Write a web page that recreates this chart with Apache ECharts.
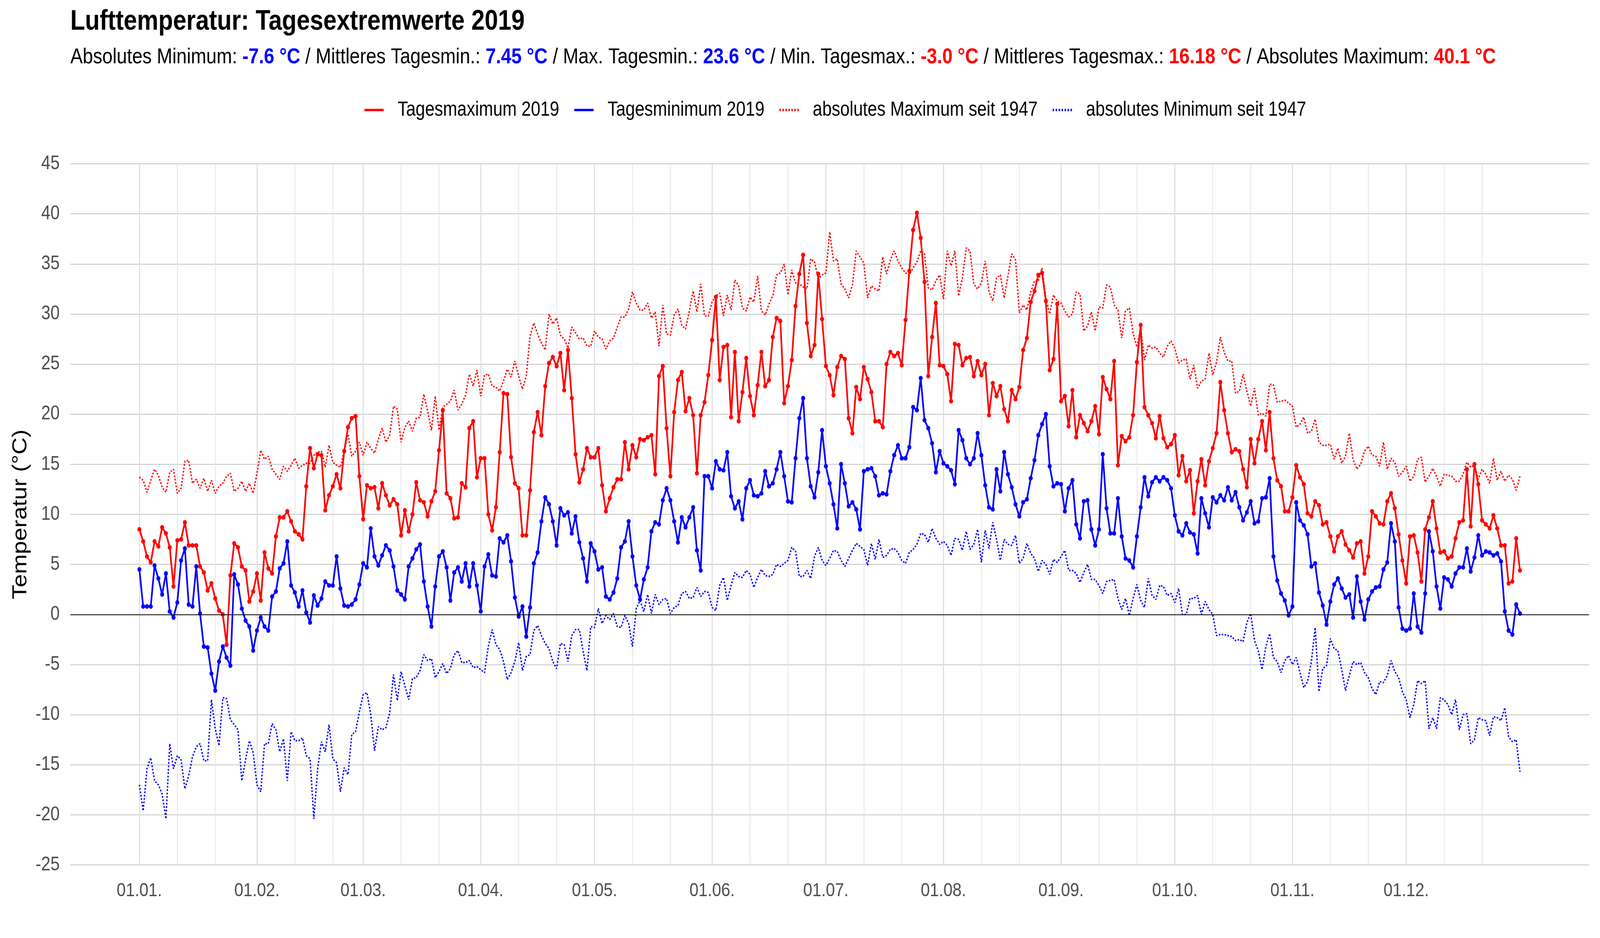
<!DOCTYPE html>
<html>
<head>
<meta charset="utf-8">
<title>Lufttemperatur: Tagesextremwerte 2019</title>
<script src="https://cdn.jsdelivr.net/npm/echarts@6.0.0/dist/echarts.min.js"></script>
<style>
  html, body { margin: 0; padding: 0; background: #fff; overflow: hidden; width: 100%; height: 100%; }
  #wrap { position: relative; width: 100vw; height: 100vh; overflow: hidden; }
  #chart { position: absolute; left: 0; top: 0; width: 4800px; height: 2400px; transform-origin: 0 0; }
</style>
</head>
<body>
<div id="wrap"><div id="chart"></div></div>
<script>
// x-Achse: Tag des Jahres 2019 (0 = 01.01.)
var monthLabels = ['01.01.', '01.02.', '01.03.', '01.04.', '01.05.', '01.06.',
                   '01.07.', '01.08.', '01.09.', '01.10.', '01.11.', '01.12.'];
var yTicks = [-25, -20, -15, -10, -5, 0, 5, 10, 15, 20, 25, 30, 35, 40, 45];

// Tagesmaximum 2019
var tmax2019 = [
  8.5, 7.3, 5.8, 5.2, 7.3, 6.8, 8.7, 8.1, 6.7, 2.8,
  7.4, 7.5, 9.2, 6.9, 6.9, 6.9, 4.8, 4.2, 2.4, 3.1,
  1.6, 0.4, 0.0, -3.0, 3.9, 7.1, 6.7, 4.8, 4.4, 1.3,
  2.3, 4.1, 1.4, 6.2, 4.6, 4.1, 7.8, 9.7, 9.7, 10.3,
  9.3, 8.3, 8.0, 7.5, 12.8, 16.6, 14.6, 16.0, 15.9, 10.4,
  11.9, 12.8, 14.0, 12.6, 16.3, 18.7, 19.6, 19.8, 13.8, 9.5,
  12.9, 12.6, 12.7, 10.6, 13.1, 11.9, 10.9, 11.5, 11.0, 7.9,
  10.4, 8.3, 10.0, 13.2, 11.4, 11.2, 9.8, 11.3, 12.3, 16.4,
  20.4, 12.1, 11.6, 9.6, 9.7, 13.1, 12.7, 18.6, 19.3, 13.7,
  15.6, 15.6, 10.0, 8.4, 10.7, 16.2, 22.1, 22.0, 15.7, 13.1,
  12.6, 7.9, 7.9, 12.4, 18.2, 20.2, 17.9, 22.8, 25.1, 25.7,
  24.8, 26.1, 22.4, 26.4, 21.6, 16.0, 13.2, 14.5, 16.6, 15.7,
  15.7, 16.6, 12.9, 10.3, 11.6, 12.7, 13.5, 13.5, 17.2, 14.5,
  16.9, 15.7, 17.5, 17.4, 17.7, 17.9, 14.0, 23.8, 24.8, 18.6,
  13.8, 20.2, 23.4, 24.2, 20.3, 21.6, 19.9, 14.1, 19.9, 21.2,
  23.9, 27.4, 31.7, 23.4, 26.7, 26.9, 19.7, 26.2, 19.3, 22.2,
  25.6, 21.8, 19.9, 22.9, 26.2, 22.8, 23.4, 27.7, 29.6, 29.3,
  21.1, 22.8, 25.4, 30.8, 34.0, 35.9, 29.1, 25.8, 26.9, 34.0,
  29.5, 24.8, 23.9, 21.9, 24.7, 25.8, 25.5, 19.6, 18.1, 22.7,
  21.5, 24.7, 23.5, 22.2, 19.3, 19.3, 18.7, 25.0, 26.2, 25.8,
  26.1, 24.9, 29.4, 34.3, 38.4, 40.1, 37.6, 33.2, 23.8, 27.7,
  31.1, 24.9, 24.8, 24.0, 21.3, 27.0, 26.9, 24.9, 25.6, 25.7,
  23.8, 25.3, 23.9, 25.0, 19.9, 23.1, 21.8, 22.8, 20.5, 19.3,
  22.4, 21.5, 22.7, 26.4, 27.6, 31.2, 32.3, 33.9, 34.1, 31.3,
  24.4, 25.5, 31.0, 21.3, 21.8, 18.8, 22.4, 17.7, 19.9, 19.1,
  18.3, 19.3, 20.8, 18.0, 23.7, 22.5, 21.5, 25.3, 14.9, 17.8,
  17.3, 17.7, 19.9, 25.2, 28.9, 20.7, 19.9, 19.1, 17.6, 19.8,
  17.6, 16.7, 17.0, 17.9, 13.9, 15.8, 13.3, 14.4, 10.1, 13.3,
  15.5, 12.9, 15.3, 16.6, 18.1, 23.2, 20.4, 18.1, 16.2, 16.5,
  16.3, 14.5, 12.7, 17.5, 15.1, 17.5, 19.3, 16.4, 20.2, 15.6,
  13.4, 12.8, 10.3, 10.3, 11.7, 14.9, 13.7, 13.0, 10.1, 9.8,
  11.3, 10.9, 9.0, 9.2, 7.8, 6.3, 7.8, 8.3, 7.0, 6.4,
  5.7, 7.1, 7.3, 4.1, 5.8, 10.3, 9.8, 9.1, 9.0, 11.3,
  12.1, 10.6, 8.0, 5.4, 3.1, 7.8, 7.9, 6.2, 3.3, 8.5,
  9.7, 11.3, 8.6, 6.2, 6.3, 5.6, 5.8, 7.6, 9.2, 9.4,
  14.5, 8.8, 15.0, 13.0, 9.4, 9.0, 8.6, 9.9, 8.6, 6.9,
  6.9, 3.1, 3.3, 7.6, 4.4
];

// Tagesminimum 2019
var tmin2019 = [
  4.5, 0.8, 0.8, 0.8, 4.9, 3.6, 2.0, 4.1, 0.3, -0.3,
  1.2, 5.4, 6.6, 1.0, 0.8, 4.8, 0.1, -3.2, -3.3, -5.9,
  -7.6, -4.7, -3.2, -4.3, -5.1, 4.0, 3.0, 0.6, -0.6, -1.2,
  -3.6, -1.6, -0.3, -1.2, -1.6, 1.8, 2.3, 4.6, 5.1, 7.3,
  2.9, 2.2, 0.8, 2.4, 0.2, -0.8, 1.9, 0.9, 1.6, 3.3,
  2.9, 2.9, 5.8, 2.6, 0.9, 0.8, 1.0, 1.5, 3.0, 5.1,
  4.7, 8.6, 5.8, 4.9, 5.9, 6.9, 6.4, 4.8, 2.4, 2.0,
  1.5, 4.8, 5.6, 6.5, 7.0, 3.3, 0.8, -1.2, 2.8, 5.8,
  6.3, 4.7, 1.4, 4.2, 4.7, 3.3, 5.1, 2.8, 5.1, 2.9,
  0.3, 4.8, 6.0, 3.9, 3.8, 7.6, 7.2, 7.9, 5.3, 1.7,
  -0.2, 0.8, -2.2, 0.7, 5.1, 6.2, 9.3, 11.7, 11.0, 9.3,
  6.9, 10.6, 9.9, 10.2, 8.1, 9.8, 7.2, 5.6, 3.3, 7.1,
  6.3, 4.5, 4.7, 1.8, 1.5, 2.2, 3.6, 6.7, 7.3, 9.3,
  5.8, 2.9, 1.5, 3.5, 4.7, 8.3, 9.2, 9.0, 11.4, 12.6,
  11.4, 9.3, 7.2, 9.7, 8.7, 9.7, 10.7, 6.4, 4.4, 13.8,
  13.8, 12.6, 15.3, 14.5, 14.4, 16.2, 11.8, 10.6, 11.3, 9.5,
  12.6, 13.4, 11.9, 11.8, 12.1, 14.3, 12.8, 13.1, 14.5, 16.2,
  13.8, 11.3, 11.2, 15.6, 19.6, 21.6, 15.6, 12.8, 11.7, 14.2,
  18.4, 14.8, 13.1, 11.0, 8.6, 15.0, 13.1, 10.8, 11.2, 10.5,
  8.5, 14.3, 14.5, 14.6, 13.8, 11.9, 12.1, 12.0, 14.3, 15.9,
  16.9, 15.6, 15.6, 16.7, 20.7, 20.4, 23.6, 19.4, 18.6, 17.1,
  14.2, 16.3, 15.1, 14.8, 14.4, 13.0, 18.4, 17.4, 15.6, 15.0,
  15.6, 18.1, 15.9, 12.9, 10.7, 10.5, 14.5, 12.3, 16.2, 14.0,
  12.7, 11.0, 9.8, 11.2, 11.5, 13.6, 15.4, 17.9, 19.0, 20.0,
  14.8, 12.8, 13.1, 13.0, 10.3, 12.6, 13.4, 9.0, 7.6, 11.3,
  11.4, 8.5, 6.9, 8.5, 16.0, 10.6, 8.1, 8.1, 11.6, 7.8,
  5.6, 5.4, 4.7, 7.8, 10.7, 13.7, 11.8, 13.2, 13.7, 13.3,
  13.7, 13.4, 12.6, 9.9, 8.3, 7.9, 9.1, 8.2, 8.0, 6.1,
  11.6, 10.1, 8.7, 11.7, 11.2, 11.9, 11.4, 12.7, 11.4, 12.2,
  10.7, 9.4, 10.2, 11.3, 9.1, 9.3, 11.6, 11.7, 13.6, 5.8,
  3.4, 2.1, 1.4, -0.1, 0.8, 11.2, 9.4, 8.9, 8.0, 4.8,
  5.1, 2.2, 0.9, -1.0, 1.3, 3.0, 3.6, 2.6, 1.7, 2.0,
  -0.3, 3.8, 1.3, -0.5, 1.5, 2.3, 2.7, 2.8, 4.5, 5.2,
  9.1, 7.3, 0.7, -1.4, -1.6, -1.4, 2.1, -1.2, -1.8, 2.1,
  8.3, 6.3, 2.8, 0.6, 3.7, 3.5, 2.8, 4.1, 4.7, 4.7,
  6.6, 4.3, 5.7, 7.9, 5.9, 6.3, 6.2, 5.9, 6.1, 5.3,
  0.3, -1.6, -2.0, 1.0, 0.1
];

// absolutes Maximum seit 1947
var absMax1947 = [
  13.7, 13.4, 12.2, 13.4, 14.5, 13.9, 12.7, 12.2, 14.2, 14.5,
  12.1, 12.6, 15.3, 15.4, 13.1, 13.5, 12.6, 13.6, 12.3, 13.4,
  12.1, 12.8, 13.1, 13.8, 14.1, 12.3, 12.6, 13.3, 12.3, 13.1,
  12.1, 14.1, 16.4, 15.5, 15.8, 14.5, 14.0, 13.5, 14.8, 14.3,
  14.9, 15.6, 14.6, 14.9, 15.1, 15.1, 15.9, 16.2, 16.3, 14.7,
  16.9, 15.2, 14.9, 14.7, 16.3, 18.0, 15.8, 16.3, 17.2, 15.9,
  17.2, 16.6, 16.1, 17.5, 18.6, 17.2, 17.9, 20.8, 20.5, 17.2,
  18.7, 19.3, 18.3, 19.6, 19.7, 22.0, 20.3, 18.4, 21.8, 18.4,
  20.7, 21.0, 21.3, 22.4, 20.4, 21.0, 21.9, 24.0, 22.8, 24.4,
  21.8, 23.9, 24.0, 22.8, 22.7, 22.3, 23.3, 24.5, 23.7, 25.3,
  23.8, 22.5, 23.8, 27.8, 29.1, 28.0, 27.1, 26.4, 30.0, 29.0,
  29.6, 27.9, 27.5, 26.6, 28.7, 28.1, 27.5, 27.6, 26.8, 26.8,
  28.3, 27.7, 27.5, 26.5, 27.3, 27.6, 28.7, 29.7, 29.7, 30.5,
  32.2, 31.1, 30.4, 30.4, 31.1, 29.6, 30.2, 26.8, 30.9, 28.0,
  27.9, 29.9, 30.5, 28.9, 28.5, 30.3, 32.3, 30.2, 33.0, 29.8,
  29.8, 31.2, 31.8, 32.1, 29.8, 31.9, 30.4, 33.4, 32.8, 30.6,
  30.3, 31.7, 31.2, 33.8, 30.3, 29.9, 31.0, 31.8, 33.9, 34.1,
  35.0, 31.9, 34.4, 33.1, 33.0, 32.7, 32.5, 35.5, 35.2, 33.5,
  33.9, 34.1, 38.2, 35.3, 35.5, 33.0, 32.5, 31.6, 32.9, 36.3,
  35.7, 35.1, 31.6, 32.8, 32.5, 32.3, 35.7, 34.0, 35.4, 36.3,
  35.3, 34.6, 34.1, 33.9, 34.6, 35.2, 36.3, 36.0, 32.6, 32.4,
  33.3, 33.9, 31.5, 36.3, 34.8, 36.3, 31.8, 33.6, 36.6, 36.3,
  33.0, 32.5, 33.1, 35.3, 32.2, 31.3, 33.6, 33.9, 31.6, 33.8,
  36.0, 35.4, 30.1, 30.9, 30.4, 32.2, 33.3, 33.3, 34.6, 31.6,
  30.0, 31.9, 31.3, 31.1, 30.3, 29.7, 30.0, 32.2, 32.0, 28.3,
  28.8, 30.2, 28.3, 30.7, 30.6, 32.9, 32.7, 30.9, 30.4, 27.6,
  30.3, 30.6, 28.1, 26.7, 28.6, 25.4, 26.9, 26.6, 26.7, 26.1,
  25.7, 26.8, 27.3, 26.6, 25.1, 25.4, 25.5, 23.5, 24.9, 22.6,
  23.3, 23.5, 26.1, 23.9, 25.2, 27.7, 26.2, 25.3, 25.3, 22.1,
  22.3, 24.0, 22.3, 20.8, 22.6, 19.9, 20.1, 19.8, 23.0, 22.9,
  21.2, 21.3, 21.4, 21.1, 20.8, 18.7, 19.0, 19.7, 18.1, 18.3,
  19.5, 17.2, 16.9, 16.9, 17.0, 15.5, 16.6, 15.1, 15.8, 18.1,
  15.5, 14.5, 15.0, 16.3, 16.8, 15.9, 15.8, 14.8, 17.2, 14.5,
  15.6, 15.2, 13.8, 14.2, 14.8, 13.3, 13.8, 15.5, 15.7, 13.2,
  13.8, 14.6, 13.8, 12.8, 14.0, 13.9, 13.8, 13.3, 13.3, 14.0,
  15.2, 14.7, 14.9, 13.5, 14.5, 14.0, 13.1, 15.6, 13.4, 14.3,
  13.3, 13.9, 13.5, 12.4, 13.8
];

// absolutes Minimum seit 1947
var absMin1947 = [
  -17.0, -19.6, -15.4, -14.3, -16.6, -17.0, -17.9, -20.4, -12.9, -15.4,
  -14.1, -14.5, -17.4, -16.1, -14.2, -13.2, -12.9, -14.6, -14.6, -8.5,
  -11.4, -13.1, -8.3, -8.4, -10.5, -11.0, -11.5, -16.6, -14.5, -12.6,
  -13.8, -17.0, -17.7, -12.9, -12.9, -10.9, -11.5, -13.7, -12.4, -16.6,
  -11.7, -12.6, -12.6, -12.3, -14.1, -14.4, -20.4, -15.4, -12.7, -13.7,
  -11.0, -14.4, -14.8, -17.7, -15.3, -16.0, -12.0, -11.7, -9.7, -8.0,
  -7.8, -10.0, -13.6, -11.2, -11.5, -11.3, -9.8, -6.0, -8.6, -5.7,
  -7.1, -8.5, -6.4, -6.3, -5.6, -4.0, -4.6, -4.4, -6.3, -5.7,
  -4.9, -5.9, -5.4, -4.0, -3.6, -4.8, -4.8, -4.6, -5.3, -5.2,
  -5.5, -5.8, -3.2, -1.5, -3.0, -3.5, -4.7, -6.5, -5.8, -4.7,
  -2.8, -5.6, -4.2, -4.0, -1.6, -1.1, -2.1, -2.9, -3.4, -4.7,
  -5.4, -2.9, -3.0, -4.7, -2.1, -1.5, -1.5, -3.7, -5.6, -1.2,
  -1.3, 0.6, -0.9, -0.1, -0.5, 0.1, -1.2, -1.3, -0.1, -0.9,
  -3.2, 0.6, 1.4, 0.3, 2.0, 0.1, 2.0, 1.0, 1.5, 1.6,
  0.1, 0.7, 0.9, 2.1, 2.3, 1.6, 1.7, 2.7, 1.8, 2.3,
  2.2, 0.7, 0.4, 2.9, 3.7, 1.4, 2.9, 4.2, 3.8, 3.7,
  4.4, 4.0, 2.7, 3.7, 4.5, 3.9, 3.8, 4.0, 5.0, 4.8,
  5.1, 5.4, 6.7, 6.3, 3.8, 3.8, 4.4, 3.6, 5.8, 6.7,
  5.4, 4.9, 5.6, 6.4, 6.3, 5.4, 4.8, 5.6, 6.4, 7.1,
  6.8, 6.5, 4.9, 7.1, 5.5, 7.5, 5.7, 5.9, 6.5, 6.6,
  6.2, 5.4, 5.1, 6.2, 6.5, 7.0, 8.1, 8.0, 7.2, 8.6,
  7.6, 7.0, 7.3, 6.9, 5.9, 7.6, 7.5, 6.4, 8.3, 6.5,
  7.0, 8.5, 5.2, 8.4, 6.6, 9.2, 7.5, 5.4, 7.5, 7.0,
  6.9, 7.9, 5.1, 5.6, 7.1, 6.1, 5.6, 4.3, 5.4, 5.0,
  4.0, 5.5, 5.2, 5.8, 6.4, 4.4, 4.4, 4.1, 3.2, 4.2,
  5.0, 3.5, 3.5, 2.9, 2.1, 3.3, 3.4, 3.5, 1.6, 0.5,
  1.6, -0.1, 1.6, 3.0, 1.4, 0.7, 3.6, 1.9, 1.5, 2.9,
  2.8, 1.9, 2.1, 1.2, 2.6, 0.0, 0.0, 1.6, 1.6, 1.9,
  0.0, 1.3, 0.5, 0.0, -2.1, -2.0, -2.0, -2.1, -2.2, -2.6,
  -2.5, -2.7, -0.8, 0.1, -2.6, -3.6, -5.5, -3.2, -1.9, -4.3,
  -4.7, -5.8, -4.6, -4.1, -5.0, -4.3, -5.8, -7.3, -6.7, -4.7,
  -1.3, -7.7, -5.4, -5.1, -2.4, -3.4, -3.6, -5.5, -7.6, -6.1,
  -4.7, -5.0, -4.8, -5.8, -6.3, -7.4, -8.0, -6.7, -6.8, -6.1,
  -4.6, -5.7, -6.3, -7.7, -8.5, -10.3, -9.0, -6.6, -6.9, -6.6,
  -11.4, -10.3, -11.4, -8.3, -8.5, -9.0, -10.0, -8.5, -11.5, -10.0,
  -9.9, -12.9, -12.5, -10.3, -10.5, -10.6, -12.1, -10.2, -10.3, -10.6,
  -9.3, -12.2, -12.7, -12.5, -15.7
];

var seriesNames = ['Tagesmaximum 2019', 'Tagesminimum 2019',
                   'absolutes Maximum seit 1947', 'absolutes Minimum seit 1947'];

var FONT = '"Liberation Sans", Arial, sans-serif';
var RED = '#FF0000';
var BLUE = '#0000FF';

// Monatsanfaenge als Tag des Jahres, dazu Nebenlinien am 11. und 21.
var dayMs = 24 * 3600 * 1000;
var monthStarts = monthLabels.map(function (l, m) {
    return Math.round((Date.UTC(2019, m, 1) - Date.UTC(2019, 0, 1)) / dayMs);
});
var minorDays = [];
monthStarts.forEach(function (d) {
    minorDays.push(d + 10, d + 20);
});

function toPairs(arr) {
    return arr.map(function (v, i) { return [i, v]; });
}

// Legendensymbole: durchgezogen bzw. gepunktet
var solidIcon = 'path://M0,0H58V6H0Z';
var dottedIcon = 'path://';
for (var k = 0; k < 7; k++) {
    dottedIcon += 'M' + (k * 9) + ',0h4.5v6h-4.5z';
}

var xMin = -18.2, xMax = 382.2;

// Layout ist fuer 4800x2400 angelegt; auf die tatsaechliche Fenstergroesse strecken
var dom = document.getElementById('chart');
var sx = window.innerWidth / 4800;
var sy = window.innerHeight / 2400;
if (sx > 0 && sy > 0 && (Math.abs(sx - 1) > 0.001 || Math.abs(sy - 1) > 0.001)) {
    dom.style.transform = 'scale(' + sx + ',' + sy + ')';
}

var chart = echarts.init(dom);

chart.setOption({
    animation: false,
    backgroundColor: '#fff',
    textStyle: { fontFamily: FONT },
    title: [{
        text: 'Lufttemperatur: Tagesextremwerte 2019',
        left: 211,
        top: 20,
        padding: 0,
        textStyle: { fontFamily: FONT, fontSize: 72, fontWeight: 'bold', color: '#000' }
    }, {
        text: 'Absolutes Minimum: {b|-7.6 °C} / Mittleres Tagesmin.: {b|7.45 °C} / Max. Tagesmin.: {b|23.6 °C} / ' +
              'Min. Tagesmax.: {r|-3.0 °C} / Mittleres Tagesmax.: {r|16.18 °C} / Absolutes Maximum: {r|40.1 °C}',
        left: 211,
        top: 119,
        padding: 0,
        textStyle: {
            fontFamily: FONT, fontSize: 55.6, fontWeight: 'normal', color: '#000',
            rich: {
                b: { fontFamily: FONT, fontSize: 55.6, fontWeight: 'bold', color: BLUE },
                r: { fontFamily: FONT, fontSize: 55.6, fontWeight: 'bold', color: RED }
            }
        }
    }],
    legend: {
        left: 1093,
        top: 256,
        padding: 0,
        itemWidth: 58,
        itemHeight: 6,
        itemGap: 45,
        symbolKeepAspect: false,
        textStyle: { fontFamily: FONT, fontSize: 51, color: '#000', padding: [0, 0, 0, 37] },
        data: [
            { name: seriesNames[0], icon: solidIcon },
            { name: seriesNames[1], icon: solidIcon },
            { name: seriesNames[2], icon: dottedIcon },
            { name: seriesNames[3], icon: dottedIcon }
        ]
    },
    grid: { left: 211, right: 33, top: 419, bottom: 187, containLabel: false },
    xAxis: [{
        type: 'value',
        min: xMin,
        max: xMax,
        axisLine: { show: false },
        axisTick: { show: false, customValues: monthStarts },
        axisLabel: {
            customValues: monthStarts,
            margin: 42,
            fontFamily: FONT,
            fontSize: 49,
            color: '#4D4D4D',
            formatter: function (v) {
                var i = monthStarts.indexOf(Math.round(v));
                return i >= 0 ? monthLabels[i] : '';
            }
        },
        splitLine: { show: true, lineStyle: { color: '#DCDCDC', width: 3 } }
    }, {
        type: 'value',
        min: xMin,
        max: xMax,
        position: 'bottom',
        axisLine: { show: false },
        axisTick: { show: false, customValues: minorDays },
        axisLabel: { show: false, customValues: minorDays },
        splitLine: { show: true, lineStyle: { color: '#E2E2E2', width: 2 } }
    }],
    yAxis: {
        type: 'value',
        min: yTicks[0],
        max: yTicks[yTicks.length - 1],
        interval: 5,
        name: 'Temperatur (°C)',
        nameLocation: 'middle',
        nameGap: 118,
        nameRotate: 90,
        nameMoveOverlap: false,
        nameTextStyle: { fontFamily: FONT, fontSize: 61, color: '#000' },
        axisLine: { show: false },
        axisTick: { show: false },
        axisLabel: { margin: 32, fontFamily: FONT, fontSize: 50, color: '#4D4D4D' },
        splitLine: { show: true, lineStyle: { color: '#C4C4C4', width: 2 } }
    },
    series: [{
        name: seriesNames[2],
        type: 'line',
        data: toPairs(absMax1947),
        color: RED,
        showSymbol: false,
        symbol: 'none',
        lineStyle: { color: RED, width: 4, type: [4.5, 4.2] },
        z: 2
    }, {
        name: seriesNames[3],
        type: 'line',
        data: toPairs(absMin1947),
        color: BLUE,
        showSymbol: false,
        symbol: 'none',
        lineStyle: { color: BLUE, width: 4, type: [4.5, 4.2] },
        z: 2,
        markLine: {
            silent: true,
            symbol: 'none',
            label: { show: false },
            lineStyle: { color: '#000', width: 2, type: 'solid' },
            data: [{ yAxis: 0 }]
        }
    }, {
        name: seriesNames[0],
        type: 'line',
        data: toPairs(tmax2019),
        color: RED,
        symbol: 'circle',
        symbolSize: 12,
        showAllSymbol: true,
        itemStyle: { color: RED },
        lineStyle: { color: RED, width: 5 },
        z: 3
    }, {
        name: seriesNames[1],
        type: 'line',
        data: toPairs(tmin2019),
        color: BLUE,
        symbol: 'circle',
        symbolSize: 12,
        showAllSymbol: true,
        itemStyle: { color: BLUE },
        lineStyle: { color: BLUE, width: 5 },
        z: 3
    }]
});
</script>
</body>
</html>
